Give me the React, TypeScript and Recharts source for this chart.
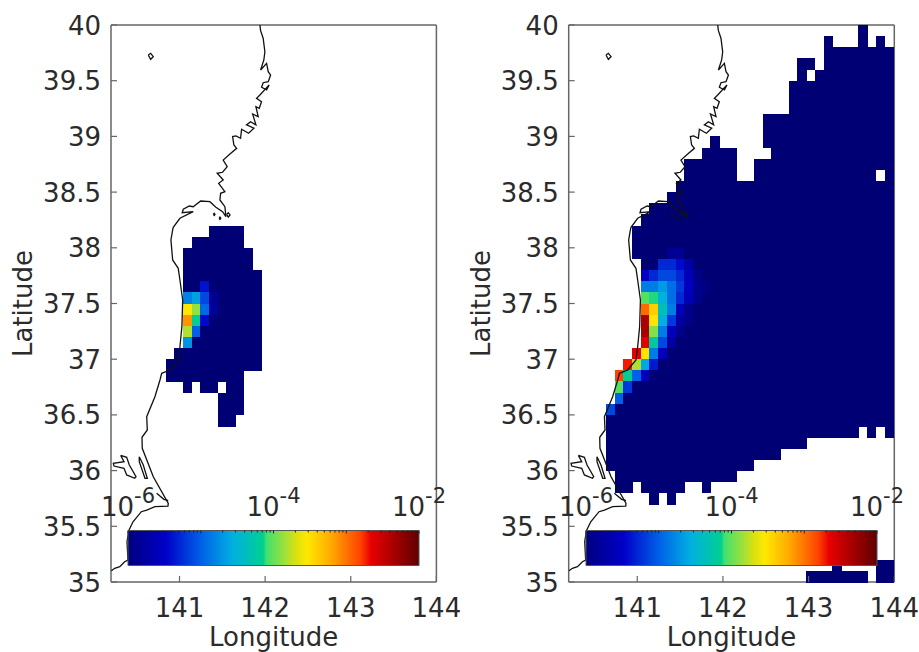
import { ReferenceArea, Scatter, ScatterChart, XAxis, YAxis } from 'recharts';

const FONT = 'DejaVu Sans';
const TEXT = '#2b2b2b';
const AXIS = '#666666';

const lonTicks = [141, 142, 143, 144];
const latTicks = [35, 35.5, 36, 36.5, 37, 37.5, 38, 38.5, 39, 39.5, 40];

// grid column centres, column 0 is gridLons[4] (just off the coast)
const gridLons = [
    140.684, 140.786, 140.888, 140.989, 141.091, 141.193, 141.294, 141.396, 141.498, 141.599, 141.701,
    141.803, 141.904, 142.006, 142.108, 142.209, 142.311, 142.413, 142.514, 142.616, 142.718, 142.819,
    142.921, 143.023, 143.124, 143.226, 143.328, 143.429, 143.531, 143.633, 143.734, 143.836, 143.938,
];

// rows of cells above the 1e-6 floor, as [first column, last column] runs
const leftRowLats = [38.15, 38.05, 37.95, 37.85, 37.75, 37.65, 37.55, 37.45, 37.35, 37.25, 37.15, 37.05, 36.95, 36.85, 36.75, 36.65, 36.55, 36.45];
const leftRowRuns = [
    [[3, 6]], [[1, 6]], [[0, 7]], [[0, 7]], [[0, 8]], [[0, 8]], [[0, 8]], [[0, 8]], [[0, 8]],
    [[0, 8]], [[0, 8]], [[-1, 8]], [[-2, 8]], [[-2, 6]], [[0, 0], [2, 3], [5, 6]], [[4, 6]], [[4, 6]], [[4, 5]],
];
// [lat, column, log10 value]
const leftLevels = [
    [37.65, 2, -5.4],
    [37.55, 0, -4.8], [37.55, 1, -4.64], [37.55, 2, -5.12], [37.55, 3, -5.8],
    [37.45, 0, -3.56], [37.45, 1, -3.88], [37.45, 2, -4.96], [37.45, 3, -5.76],
    [37.35, 0, -3.12], [37.35, 1, -4.16], [37.35, 2, -5.44],
    [37.25, 0, -3.8], [37.25, 1, -5],
    [37.15, 0, -4.72],
];

const rightRowLats = [
    39.95, 39.85, 39.75, 39.65, 39.55, 39.45, 39.35, 39.25, 39.15, 39.05, 38.95, 38.85, 38.75, 38.65, 38.55, 38.45, 38.35, 38.25,
    38.15, 38.05, 37.95, 37.85, 37.75, 37.65, 37.55, 37.45, 37.35, 37.25, 37.15, 37.05, 36.95, 36.85, 36.75, 36.65, 36.55, 36.45,
    36.35, 36.25, 36.15, 36.05, 35.95, 35.85, 35.75, 35.15, 35.05,
];
const rightRowRuns = [
    [[25, 25]], [[21, 21], [25, 25], [27, 27]], [[21, 28]], [[18, 19], [21, 28]], [[18, 18], [20, 28]],
    [[17, 28]], [[17, 28]], [[17, 28]], [[14, 28]], [[14, 28]], [[8, 8], [14, 28]], [[7, 10], [15, 28]],
    [[5, 10], [13, 28]], [[5, 10], [13, 26], [28, 28]], [[4, 28]], [[3, 28]], [[1, 28]], [[0, 28]],
    [[-1, 28]], [[-1, 28]], [[-1, 28]], [[0, 28]], [[0, 28]], [[0, 28]], [[0, 28]], [[0, 28]], [[0, 28]], [[0, 28]], [[0, 28]],
    [[-1, 28]], [[-2, 28]], [[-3, 28]], [[-3, 28]], [[-3, 28]], [[-4, 28]], [[-4, 28]],
    [[-4, 24], [26, 26], [28, 28]], [[-4, 18]], [[-4, 15]], [[-4, 12]], [[-3, 10]], [[-3, -2], [0, 4], [7, 7]], [[1, 1], [3, 3]],
    [[22, 22], [27, 28]], [[19, 25], [27, 28]],
];
const rightLevels = [
    [37.95, 3, -5.8], [37.95, 4, -5.8],
    [37.85, 2, -5.28], [37.85, 3, -5.28], [37.85, 4, -5.44], [37.85, 5, -5.68],
    [37.75, 0, -5.5], [37.75, 1, -5.28], [37.75, 2, -5.12], [37.75, 3, -5.12], [37.75, 4, -5.28], [37.75, 5, -5.56], [37.75, 6, -5.88],
    [37.65, 0, -4.84], [37.65, 1, -4.84], [37.65, 2, -4.68], [37.65, 3, -4.92], [37.65, 4, -5.2], [37.65, 5, -5.5], [37.65, 6, -5.84], [37.65, 7, -5.92],
    [37.55, 0, -4.04], [37.55, 1, -4.12], [37.55, 2, -4.52], [37.55, 3, -4.92], [37.55, 4, -5.28], [37.55, 5, -5.6], [37.55, 6, -5.84],
    [37.45, 0, -2.96], [37.45, 1, -3.4], [37.45, 2, -4.36], [37.45, 3, -4.84], [37.45, 4, -5.6], [37.45, 5, -5.84],
    [37.35, 0, -2.36], [37.35, 1, -3.52], [37.35, 2, -4.56], [37.35, 3, -5.2], [37.35, 4, -5.72], [37.35, 5, -5.88],
    [37.25, 0, -2.36], [37.25, 1, -3.92], [37.25, 2, -4.84], [37.25, 3, -5.56], [37.25, 4, -5.84],
    [37.15, 0, -2.64], [37.15, 1, -4.24], [37.15, 2, -5.12], [37.15, 3, -5.72],
    [37.05, -1, -2.64], [37.05, 0, -3.52], [37.05, 1, -4.84], [37.05, 2, -5.56],
    [36.95, -2, -2.72], [36.95, -1, -3.8], [36.95, 0, -4.6], [36.95, 1, -5.36],
    [36.85, -3, -2.8], [36.85, -2, -4.16], [36.85, -1, -5], [36.85, 0, -5.56],
    [36.75, -3, -4.04], [36.75, -2, -5.2],
    [36.65, -3, -5],
    [36.55, -4, -5.12],
];

// coastline, lon/lat pairs
const mainCoast = [
    [141.939, 40], [141.947, 39.949], [141.977, 39.881], [141.997, 39.76], [141.985, 39.686], [141.947, 39.596], [142.017, 39.656],
    [142.036, 39.581], [142.064, 39.551], [142.036, 39.491], [141.977, 39.482], [141.958, 39.441], [142.017, 39.417], [142.047, 39.462],
    [141.939, 39.372], [141.9, 39.342], [141.958, 39.312], [141.931, 39.252], [141.892, 39.267], [141.919, 39.177], [141.854, 39.201],
    [141.892, 39.103], [141.83, 39.132], [141.783, 39.103], [141.869, 39.073], [141.807, 39.028], [141.725, 39.064], [141.713, 38.983],
    [141.659, 39.004], [141.62, 38.998], [141.635, 38.923], [141.667, 38.893], [141.589, 38.842], [141.51, 38.788], [141.557, 38.728],
    [141.503, 38.678], [141.44, 38.669], [141.51, 38.609], [141.457, 38.579], [141.53, 38.504], [141.48, 38.489], [141.472, 38.429],
    [141.53, 38.369], [141.542, 38.279], [141.503, 38.324], [141.425, 38.364], [141.355, 38.414], [141.247, 38.42], [141.16, 38.369],
    [141.114, 38.375], [141.044, 38.346], [141.032, 38.315], [141.16, 38.324], [141.005, 38.265], [140.927, 38.184], [140.92, 38.16],
    [140.9, 38.07], [140.92, 37.891], [140.985, 37.816], [141.005, 37.711], [141.037, 37.532], [141.028, 37.292], [141.005, 37.112],
    [140.985, 36.993], [140.888, 36.903], [140.792, 36.873], [140.772, 36.813], [140.713, 36.663], [140.617, 36.484], [140.624, 36.365],
    [140.562, 36.299], [140.565, 36.2], [140.694, 35.945], [140.869, 35.706], [140.865, 35.682], [140.713, 35.676], [140.617, 35.646],
    [140.554, 35.631], [140.457, 35.541], [140.407, 35.461], [140.387, 35.362], [140.398, 35.197], [140.36, 35.182], [140.302, 35.137],
    [140.243, 35.123], [140.204, 35.101],
];
const lagoon = [
    [140.313, 36.137], [140.383, 36.119], [140.414, 36.05], [140.492, 35.945], [140.477, 35.931], [140.383, 35.961],
    [140.352, 36.021], [140.235, 36.041], [140.227, 36.066], [140.352, 36.08], [140.313, 36.137],
];
const sandbar = [[140.53, 36.125], [140.577, 36.05], [140.624, 35.931], [140.597, 35.931], [140.53, 36.08], [140.53, 36.125]];
const capeSpit = [[140.733, 35.796], [140.818, 35.742], [140.869, 35.73]];
const northIsle = [[140.635, 39.731], [140.663, 39.746], [140.694, 39.716], [140.663, 39.692], [140.635, 39.731]];
const bayIsleA = [[141.55, 38.3], [141.57, 38.315], [141.59, 38.295], [141.57, 38.275], [141.55, 38.3]];
const bayIsleB = [[141.395, 38.3], [141.405, 38.31], [141.415, 38.3], [141.405, 38.29], [141.395, 38.3]];
const bayIsleC = [[141.462, 38.265], [141.472, 38.275], [141.482, 38.265], [141.472, 38.255], [141.462, 38.265]];
const coastParts = [mainCoast, lagoon, sandbar, capeSpit, northIsle, bayIsleA, bayIsleB, bayIsleC];

// colour map, position 0..1 along it
const jetStops: [number, string][] = [
    [0, '#000075'], [0.13, '#0000c8'], [0.25, '#0060e8'], [0.36, '#00b0e0'], [0.465, '#00d090'], [0.475, '#40e070'],
    [0.55, '#b0e030'], [0.575, '#d8e010'], [0.615, '#ffe800'], [0.7, '#ffa800'], [0.8, '#ff4000'], [0.835, '#e80000'], [1, '#600000'],
];

const barLabels = [-6, -4, -2];
const barRange = [{ lev: -6, pos: 0 }, { lev: -2, pos: 1 }];
const minorSteps = [0, 0.301, 0.477, 0.602, 0.699, 0.778, 0.845, 0.903, 0.954];
const barTicks = [-6, -5, -4, -3].flatMap((d) => minorSteps.map((s) => d + s)).concat([-2]);

const hexRgb = (h: string) => [1, 3, 5].map((i) => parseInt(h.slice(i, i + 2), 16));

function levelColor(level: number) {
    const p = Math.max(0, Math.min(1, (level + 6) / 4));
    for (let i = 1; i < jetStops.length; i++) {
        const [p1, c1] = jetStops[i];
        if (p <= p1) {
            const [p0, c0] = jetStops[i - 1];
            const t = (p - p0) / (p1 - p0);
            const a = hexRgb(c0);
            const b = hexRgb(c1);
            return `rgb(${a.map((v, k) => Math.round(v + (b[k] - v) * t)).join(',')})`;
        }
    }
    return jetStops[jetStops.length - 1][1];
}

function buildCells(lats: number[], runs: number[][][], levels: number[][]) {
    const cells: { lon: number; lat: number; level: number }[] = [];
    lats.forEach((lat, r) => {
        runs[r].forEach(([from, to]) => {
            for (let c = from; c <= to; c++) {
                const hit = levels.find((l) => l[0] === lat && l[1] === c);
                cells.push({ lon: gridLons[c + 4], lat, level: hit ? hit[2] : -6 });
            }
        });
    });
    return cells;
}

const labelStyle = { fontSize: 26, fill: TEXT, fontFamily: FONT };
const TICK = 6;

const BottomTick = ({ x, y, payload }: any) => (
    <g>
        <line x1={x} x2={x} y1={y} y2={y - TICK} stroke={AXIS} strokeWidth={1.2} />
        <text x={x} y={y + 35} textAnchor="middle" {...labelStyle}>{payload.value}</text>
    </g>
);
const TopTick = ({ x, y }: any) => <line x1={x} x2={x} y1={y} y2={y + TICK} stroke={AXIS} strokeWidth={1.2} />;
const LeftTick = ({ x, y, payload }: any) => (
    <g>
        <line x1={x} x2={x + TICK} y1={y} y2={y} stroke={AXIS} strokeWidth={1.2} />
        <text x={x - 10} y={y + 9.5} textAnchor="end" {...labelStyle}>{payload.value}</text>
    </g>
);
const RightTick = ({ x, y }: any) => <line x1={x} x2={x - TICK} y1={y} y2={y} stroke={AXIS} strokeWidth={1.2} />;

const LatLabel = ({ viewBox }: any) => {
    const px = viewBox.x - 78;
    const py = viewBox.y + viewBox.height / 2;
    return (
        <text x={px} y={py} textAnchor="middle" transform={`rotate(-90 ${px} ${py})`} {...labelStyle}>
            Latitude
        </text>
    );
};

function MapPanel({ left, marginLeft, plotWidth, cells }: any) {
    const cellW = (plotWidth / 3.8) * 0.1017;
    const cellH = 557 / 5 / 10;
    const drawCell = (p: any) => (
        <rect
            x={p.cx - cellW / 2}
            y={p.cy - cellH / 2}
            width={cellW + 0.5}
            height={cellH + 0.5}
            fill={levelColor(p.payload.level)}
            shapeRendering="crispEdges"
        />
    );
    const axisLine = { stroke: AXIS, strokeWidth: 1.5 };
    return (
        <div style={{ position: 'absolute', left, top: 0 }}>
            <ScatterChart
                width={460}
                height={652}
                margin={{ top: 24, bottom: 69, left: marginLeft - 1, right: 460 - marginLeft - plotWidth - 1 }}
            >
                <XAxis
                    type="number"
                    dataKey="lon"
                    domain={[140.2, 144]}
                    ticks={lonTicks}
                    interval={0}
                    height={1}
                    tickSize={0}
                    tickMargin={0}
                    tick={<BottomTick />}
                    tickLine={false}
                    axisLine={axisLine}
                    label={{ value: 'Longitude', position: 'bottom', offset: 45, style: labelStyle }}
                />
                <XAxis
                    xAxisId="top"
                    orientation="top"
                    type="number"
                    domain={[140.2, 144]}
                    ticks={lonTicks}
                    interval={0}
                    height={1}
                    tickSize={0}
                    tickMargin={0}
                    tick={<TopTick />}
                    tickLine={false}
                    axisLine={axisLine}
                />
                <YAxis
                    type="number"
                    dataKey="lat"
                    domain={[35, 40]}
                    ticks={latTicks}
                    interval={0}
                    width={1}
                    tickSize={0}
                    tickMargin={0}
                    tick={<LeftTick />}
                    tickLine={false}
                    axisLine={axisLine}
                    label={{ content: <LatLabel /> }}
                />
                <YAxis
                    yAxisId="right"
                    orientation="right"
                    type="number"
                    domain={[35, 40]}
                    ticks={latTicks}
                    interval={0}
                    width={1}
                    tickSize={0}
                    tickMargin={0}
                    tick={<RightTick />}
                    tickLine={false}
                    axisLine={axisLine}
                />
                <Scatter data={cells} shape={drawCell} isAnimationActive={false} />
                {coastParts.map((part, i) => (
                    <Scatter
                        key={i}
                        data={part.map(([lon, lat]) => ({ lon, lat }))}
                        line={{ stroke: '#111111', strokeWidth: 1.3 }}
                        lineType="joint"
                        shape={() => null}
                        isAnimationActive={false}
                    />
                ))}
            </ScatterChart>
        </div>
    );
}

const BarTick = ({ x, y, payload }: any) => {
    const major = Number.isInteger(payload.value);
    return (
        <g>
            <line x1={x} x2={x} y1={y} y2={y + (major ? 3 : 2)} stroke="#222222" strokeWidth={1} />
            {barLabels.includes(payload.value) && (
                <text x={x} y={y - 15} textAnchor="middle" fontFamily={FONT} fill={TEXT} fontSize={26}>
                    10
                    <tspan dy={-13} fontSize={21}>{String(payload.value)}</tspan>
                </text>
            )}
        </g>
    );
};

function ColorBar({ left, id }: { left: number; id: string }) {
    return (
        <div style={{ position: 'absolute', left, top: 470 }}>
            <ScatterChart width={371} height={100} margin={{ top: 59.5, bottom: 4.5, left: 40, right: 40 }}>
                <defs>
                    <linearGradient id={id} x1="0" y1="0" x2="1" y2="0">
                        {jetStops.map(([p, c]) => (
                            <stop key={p} offset={p} stopColor={p === 0 ? '#000080' : c} />
                        ))}
                    </linearGradient>
                </defs>
                <XAxis
                    type="number"
                    dataKey="lev"
                    orientation="top"
                    domain={[-6, -2]}
                    ticks={barTicks}
                    interval={0}
                    height={1}
                    tickSize={0}
                    tickMargin={0}
                    tick={<BarTick />}
                    axisLine={false}
                    tickLine={false}
                />
                <YAxis type="number" dataKey="pos" domain={[0, 1]} hide />
                <ReferenceArea x1={-6} x2={-2} y1={0} y2={1} fill={`url(#${id})`} fillOpacity={1} stroke="#555555" strokeWidth={1} />
                <Scatter data={barRange} shape={() => null} isAnimationActive={false} />
            </ScatterChart>
        </div>
    );
}

const leftCells = buildCells(leftRowLats, leftRowRuns, leftLevels);
const rightCells = buildCells(rightRowLats, rightRowRuns, rightLevels);

export default function App() {
    return (
        <div style={{ position: 'absolute', left: 0, top: 0, width: 919, height: 652, overflow: 'hidden', background: '#fff' }}>
            <MapPanel left={0} marginLeft={111} plotWidth={325.4} cells={leftCells} />
            <MapPanel left={459} marginLeft={109.7} plotWidth={325.6} cells={rightCells} />
            <ColorBar left={88} id="jetLeft" />
            <ColorBar left={545.7} id="jetRight" />
        </div>
    );
}
